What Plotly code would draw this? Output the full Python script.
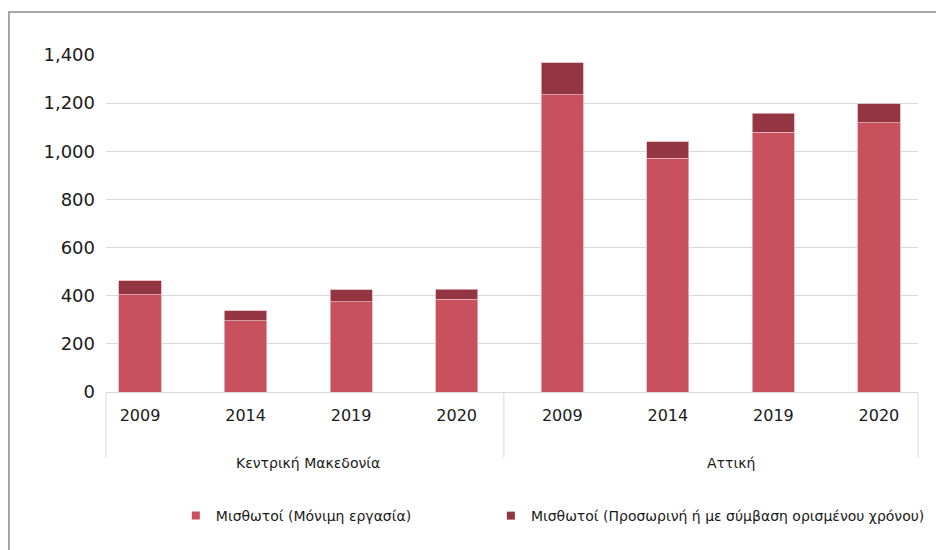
import plotly.graph_objects as go

regions = ["Κεντρική Μακεδονία", "Αττική"]
years = ["2009", "2014", "2019", "2020"]
permanent = [405, 296, 374, 385, 1234, 972, 1079, 1119]
temporary = [58, 42, 50, 42, 134, 67, 79, 79]
series_names = ["Μισθωτοί (Μόνιμη εργασία)",
                "Μισθωτοί (Προσωρινή ή με σύμβαση ορισμένου χρόνου)"]
colors = ["#C9515E", "#933641"]

keys = [f"{r}|{y}" for r in regions for y in years]
ticktext = [y for r in regions for y in years]

FONT = "DejaVu Sans"
fig = go.Figure()
for vals, name, col, leg in zip([permanent, temporary], series_names, colors,
                                ["legend", "legend2"]):
    fig.add_trace(go.Bar(
        x=keys, y=vals, name=name, width=0.4, showlegend=False,
        marker=dict(color=col, line=dict(color="#e6b3bb", width=0.8)),
    ))
    fig.add_trace(go.Scatter(
        x=[None], y=[None], mode="markers", name=name, legend=leg,
        marker=dict(symbol="square", size=8, color=col),
    ))

grid = "#d9d9d9"
shapes = [
    # outer frame
    dict(type="rect", xref="paper", yref="paper", x0=-0.1195, x1=1.3,
         y0=-0.8, y1=1.1276, line=dict(color="#8a8a8a", width=1.5)),
    # category dividers
    dict(type="line", xref="paper", yref="paper", x0=0, x1=0, y0=0, y1=-0.196,
         line=dict(color=grid, width=1)),
    dict(type="line", xref="paper", yref="paper", x0=0.49, x1=0.49, y0=0, y1=-0.196,
         line=dict(color=grid, width=1)),
    dict(type="line", xref="paper", yref="paper", x0=1, x1=1, y0=0, y1=-0.196,
         line=dict(color=grid, width=1)),
]
annotations = [
    dict(x=1.5, y=-0.2107, xref="x", yref="paper", text=regions[0], showarrow=False,
         xshift=10, yanchor="middle", font=dict(family=FONT, size=14, color="#1a1a1a")),
    dict(x=5.5, y=-0.2107, xref="x", yref="paper", text=regions[1], showarrow=False,
         xshift=10, yanchor="middle", font=dict(family=FONT, size=14, color="#1a1a1a")),
]

legend_common = dict(orientation="h", y=-0.368, yanchor="middle", xanchor="left",
                     font=dict(family=FONT, size=14, color="#1a1a1a"),
                     bgcolor="rgba(0,0,0,0)")

fig.update_layout(
    width=936, height=542,
    margin=dict(l=98, r=26, t=47, b=158),
    paper_bgcolor="white", plot_bgcolor="white",
    barmode="stack",
    font=dict(family=FONT, color="#1a1a1a"),
    shapes=shapes, annotations=annotations,
    legend=dict(x=0.086, **legend_common),
    legend2=dict(x=0.474, **legend_common),
    xaxis=dict(type="category", tickmode="array", tickvals=keys, ticktext=ticktext,
               range=[-0.322, 7.370], showline=True, linecolor=grid, linewidth=1,
               showgrid=False, ticks="", ticklabelstandoff=9,
               tickfont=dict(family=FONT, size=16, color="#1a1a1a")),
    yaxis=dict(range=[0, 1400], dtick=200, tickformat=",", showgrid=True,
               gridcolor=grid, gridwidth=1, zeroline=False, ticks="",
               ticklabelstandoff=10,
               tickfont=dict(family=FONT, size=18, color="#1a1a1a")),
)

fig.write_html("out.html")
